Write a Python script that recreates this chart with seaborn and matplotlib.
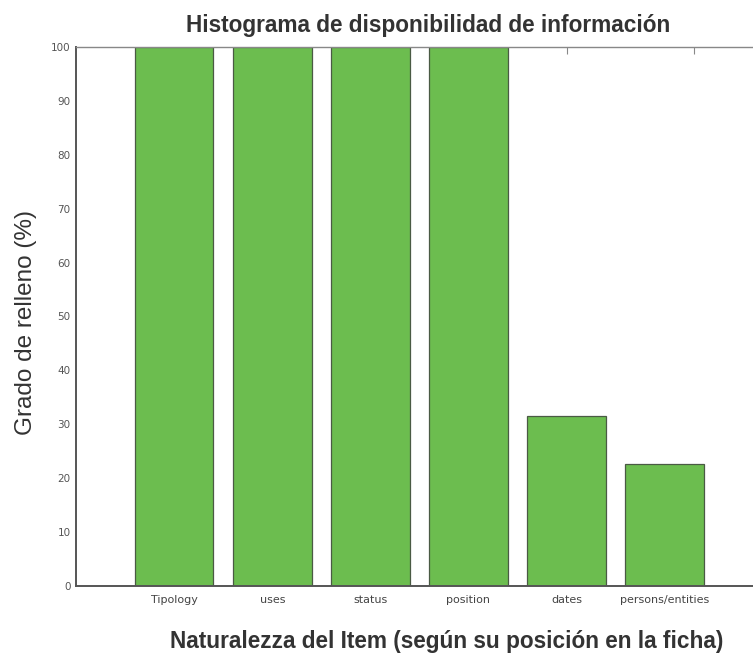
import matplotlib
matplotlib.use("Agg")
import matplotlib.pyplot as plt
import seaborn as sns
import pandas as pd

categorias = ["Tipology", "uses", "status", "position", "dates", "persons/entities"]
relleno = [100, 100, 100, 100, 31.6, 22.6]
yticks = list(range(0, 101, 10))

sns.set_style("white")
plt.rcParams['font.family'] = ['Liberation Sans', 'DejaVu Sans']

df = pd.DataFrame({"item": categorias, "relleno": relleno})

fig = plt.figure(figsize=(7.53, 6.53), dpi=100)
ax = fig.add_axes([0.101, 0.103, 0.899, 0.825])

sns.barplot(data=df, x="item", y="relleno", color="#6cbd4f", saturation=1,
            edgecolor="#4a5a44", linewidth=0.9, width=0.8, ax=ax)

ax.set_xlim(-1, 5.9)
ax.set_ylim(0, 100)
ax.set_yticks(yticks)
ax.tick_params(axis="y", direction="in", length=5, width=0.8, color="#666666",
               labelsize=7.5, labelcolor="#555555", pad=4)
ax.tick_params(axis="x", length=0, labelsize=8, labelcolor="#444444", pad=7)
for lab in ax.get_xticklabels() + ax.get_yticklabels():
    lab.set_family("DejaVu Sans")

for s in ["left", "bottom"]:
    ax.spines[s].set_color("#555555")
    ax.spines[s].set_linewidth(1.4)
ax.spines["top"].set_linewidth(1.0)
ax.spines["top"].set_color("#888888")
ax.spines["right"].set_visible(False)

# marcas en el borde superior
sec = ax.secondary_xaxis("top")
sec.set_xticks([4, 5.3])
sec.set_xticklabels(["", ""])
sec.tick_params(direction="in", length=5, width=0.8, color="#888888")
sec.spines["top"].set_visible(False)

ax.set_title("Histograma de disponibilidad de información", fontsize=16.3,
             fontweight="bold", color="#333333", pad=10.5, x=0.52)
ax.set_xlabel("Naturalezza del Item (según su posición en la ficha)", fontsize=16.3,
              fontweight="bold", color="#333333")
ax.xaxis.set_label_coords(0.547, -0.083)
ax.set_ylabel("Grado de relleno (%)", fontsize=17.5, color="#333333")
ax.yaxis.set_label_coords(-0.057, 0.488)

fig.savefig("out.png", dpi=100)
